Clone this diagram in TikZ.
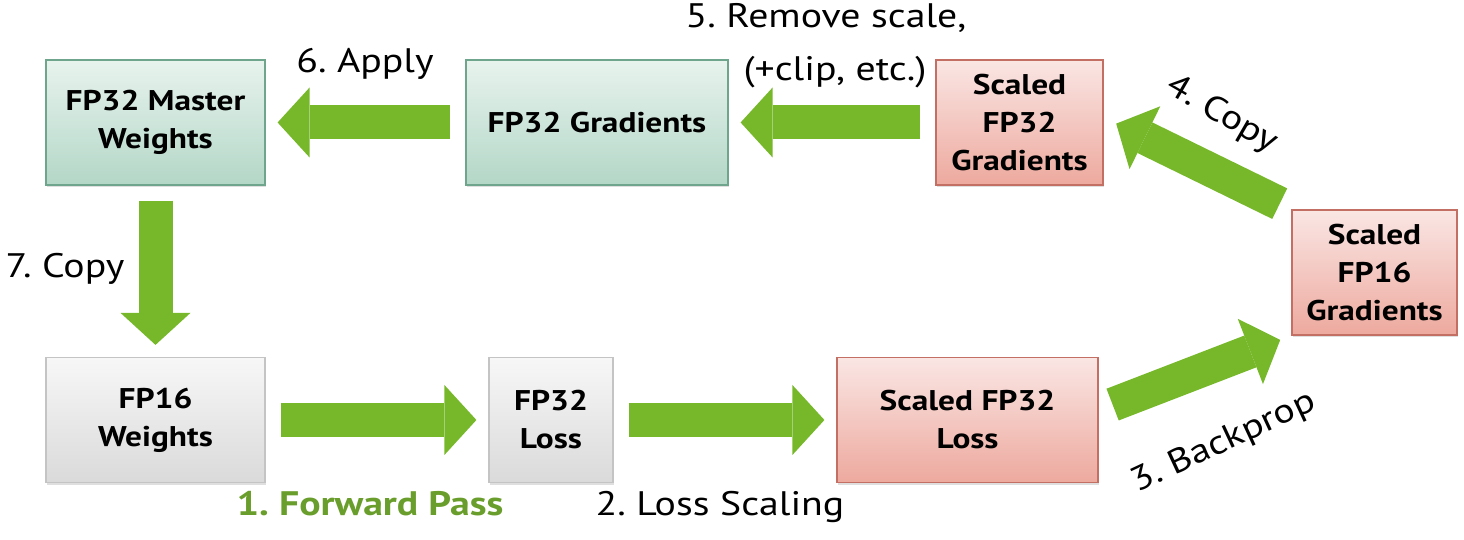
\documentclass[tikz,border=0pt]{standalone}
\usepackage{fontspec}
\setmainfont[FakeStretch=1.17]{PT Sans}
\frenchspacing
\usetikzlibrary{arrows.meta,shadows}
\definecolor{nvgreen}{HTML}{76B82A}
\definecolor{passgreen}{HTML}{6A9E2C}
\definecolor{gtop}{HTML}{E8F3EE}
\definecolor{gbot}{HTML}{B3D7C7}
\definecolor{gbord}{HTML}{6FA58D}
\definecolor{rtop}{HTML}{FAE6E4}
\definecolor{rbot}{HTML}{EDA99E}
\definecolor{rbord}{HTML}{C46F63}
\definecolor{ktop}{HTML}{F7F7F7}
\definecolor{kbot}{HTML}{DADADA}
\definecolor{kbord}{HTML}{C4C4C4}
\begin{document}
\begin{tikzpicture}[x=1pt,y=1pt,
					box/.style = {shape=rectangle, draw, line width=1.2pt, align=center,
						minimum height=125pt, inner sep=0pt,
						font=\fontsize{28.5}{38}\selectfont\bfseries,
						drop shadow={opacity=0.25, shadow xshift=1pt, shadow yshift=-2.5pt}},
					greenbox/.style = {box, draw=gbord, top color=gtop, bottom color=gbot},
					redbox/.style = {box, draw=rbord, top color=rtop, bottom color=rbot},
					greybox/.style = {box, draw=kbord, top color=ktop, bottom color=kbot},
					bigarrow/.style = {draw=nvgreen, line width=34pt,
						-{Triangle[length=32pt, width=70pt, line width=0pt]},
						shorten <=15pt, shorten >=12pt},
					lbl/.style = {font=\fontsize{34}{40}\selectfont}]
	\useasboundingbox (0,0) rectangle (1464,540);
	\node[greenbox, minimum width=219pt] (master) at (155.5,417.5) {FP32 Master\\Weights};
	\node[greenbox, minimum width=262pt] (grad32) at (597,417.5) {FP32 Gradients};
	\node[redbox, minimum width=167pt] (sgrad32) at (1019.5,417.5) {Scaled\\FP32\\Gradients};
	\node[redbox, minimum width=165pt] (sgrad16) at (1374.5,267.5) {Scaled\\FP16\\Gradients};
	\node[greybox, minimum width=219pt] (weights16) at (155.5,120) {FP16\\Weights};
	\node[greybox, minimum width=124pt] (loss32) at (551,120) {FP32\\Loss};
	\node[redbox, minimum width=261pt] (sloss32) at (967.5,120) {Scaled FP32\\Loss};
	\draw[bigarrow] (weights16.east) -- (loss32.west);
	\draw[bigarrow] (loss32.east) -- (sloss32.west);
	\draw[bigarrow] ([yshift=10pt]sloss32.east) -- (sgrad16.south west);
	\draw[bigarrow, shorten <=13pt, shorten >=14pt] (sgrad16.north west) -- ([yshift=5pt]sgrad32.east);
	\draw[bigarrow] (sgrad32.west) -- (grad32.east);
	\draw[bigarrow] (grad32.west) -- (master.east);
	\draw[bigarrow] (master.south) -- (weights16.north);
	\node[lbl, anchor=base] (apply) at (365,467) {6. Apply};
	\node[lbl, anchor=base] (remove) at (826,512) {5. Remove scale,};
	\node[lbl, anchor=base] (clip) at (835,459) {(+clip, etc.)};
	\node[lbl, rotate=-30] (copy4) at (1222,425) {4. Copy};
	\node[lbl, rotate=25] (backprop) at (1224,97) {3. Backprop};
	\node[lbl, anchor=base] (copy7) at (65,262) {7. Copy};
	\node[lbl, anchor=base, text=passgreen, font=\fontsize{34}{40}\selectfont\bfseries] (fwd) at (370,24) {1. Forward Pass};
	\node[lbl, anchor=base] (scaling) at (720,24) {2. Loss Scaling};
\end{tikzpicture}
\end{document}
